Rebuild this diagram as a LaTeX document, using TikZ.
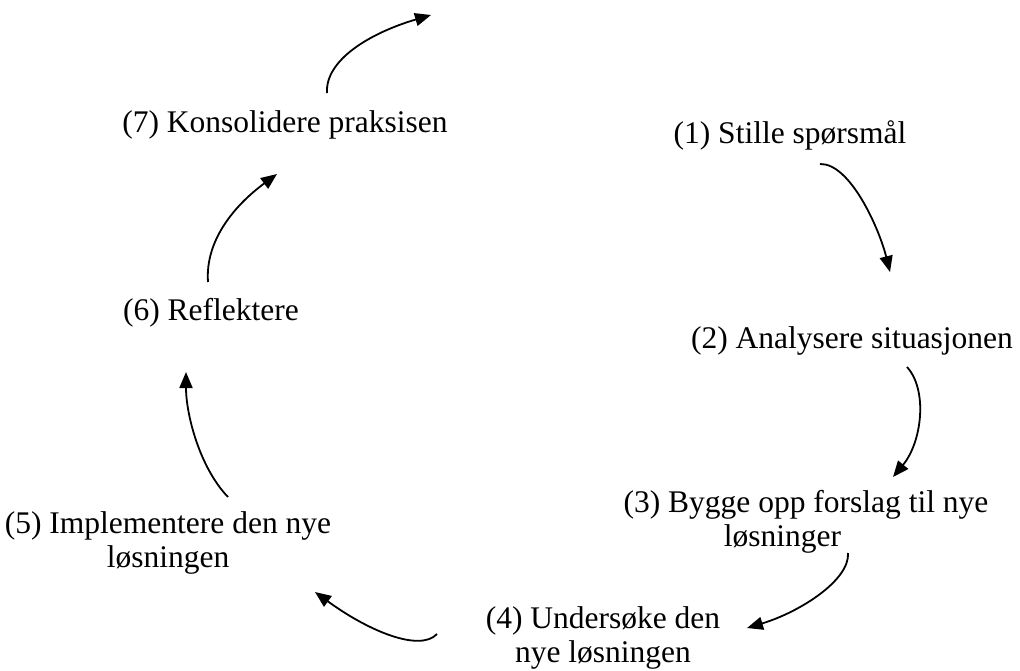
\documentclass[tikz,border=0pt]{standalone}
\usepackage{fontspec}
\setmainfont{Liberation Serif}
\usetikzlibrary{arrows.meta}

\tikzset{
  stage/.style={anchor=base, inner sep=0pt, align=center,
    font=\fontsize{31.5}{34}\selectfont},
  flow/.style={line width=1.8pt, -{Triangle[length=16pt,width=13pt]}}
}

\begin{document}
\begin{tikzpicture}[x=1pt, y=-1pt]
  \useasboundingbox (0,0) rectangle (1020,670);

  % the seven stages of the cycle (base = baseline of the last line)
  \node[stage] (n1) at (790,143) {(1) Stille spørsmål};
  \node[stage] (n2) at (852,348) {(2) Analysere situasjonen};
  \node[stage] (n3) at (806,546) {(3) Bygge opp forslag til nye\\løsninger\hspace*{1.5em}};
  \node[stage] (n4) at (603,662) {(4) Undersøke den\\nye løsningen};
  \node[stage] (n5) at (168,567) {(5) Implementere den nye\\løsningen};
  \node[stage] (n6) at (211,320) {(6) Reflektere};
  \node[stage] (n7) at (285,132) {(7) Konsolidere praksisen};

  % open end of the last arrow, leading back into the cycle
  \coordinate (back) at (431,15);

  % curved arrows between the stages
  \draw[flow] ([shift={(30,21)}]n1.base) .. controls (850,163) and (879,228) .. ([shift={(38,-76)}]n2.base);
  \draw[flow] ([shift={(55,19)}]n2.base) .. controls (928,390) and (922,442) .. ([shift={(87,-69)}]n3.base);
  \draw[flow] ([shift={(42,7)}]n3.base) .. controls (850,580) and (800,612) .. ([shift={(144,-34)}]n4.base);
  \draw[flow] ([shift={(-166,-28)}]n4.base) .. controls (420,652) and (370,632) .. ([shift={(147,25)}]n5.base);
  \draw[flow] ([shift={(60,-70)}]n5.base) .. controls (200,468) and (186,415) .. ([shift={(-25,52)}]n6.base);
  \draw[flow] ([shift={(-3,-38)}]n6.base) .. controls (205,240) and (235,205) .. ([shift={(-8,42)}]n7.base);
  \draw[flow] ([shift={(42,-39)}]n7.base) .. controls (325,60) and (370,33) .. (back);
\end{tikzpicture}
\end{document}
